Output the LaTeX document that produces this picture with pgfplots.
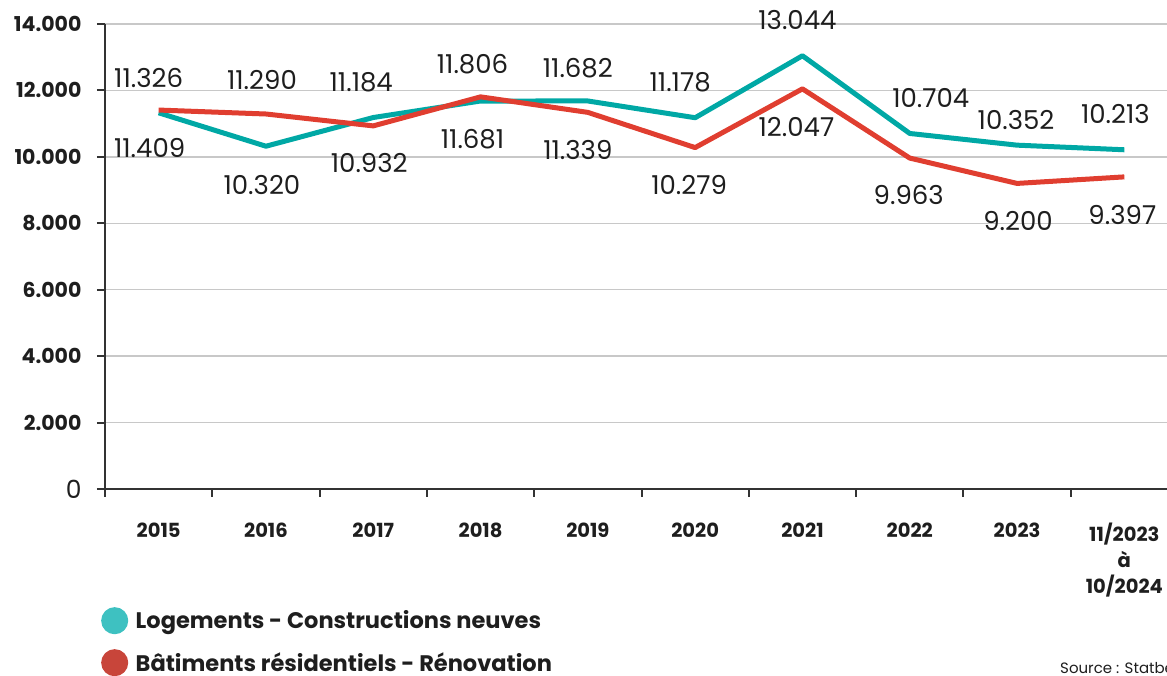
\documentclass[border=0pt]{standalone}
\usepackage{fontspec}
\setmainfont{Poppins}
\usepackage{pgfplots}
\usepackage{pgfplotstable}
\pgfplotsset{compat=1.18}
\definecolor{tealline}{RGB}{0,168,165}
\definecolor{redline}{RGB}{224,62,48}
\definecolor{tealdot}{RGB}{62,193,193}
\definecolor{reddot}{RGB}{200,69,58}
\definecolor{axisgray}{RGB}{51,51,51}
\definecolor{gridgray}{RGB}{200,200,200}
\definecolor{txt}{RGB}{30,30,30}

\pgfplotstableread{
x y lab dx dy
0 11326 11.326 -10 35
1 10320 10.320 -4 -39
2 11184 11.184 -12 35
3 11681 11.681 -8 -38
4 11682 11.682 -10 33
5 11178 11.178 -15 36
6 13044 13.044 -5 36
7 10704 10.704 21 35
8 10352 10.352 -1 25
9 10213 10.213 -9 36
}\tealdata

\pgfplotstableread{
x y lab dx dy
0 11409 11.409 -9 -38
1 11290 11.290 -4 34
2 10932 10.932 -4 -37
3 11806 11.806 -8 33
4 11339 11.339 -10 -38
5 10279 10.279 -6 -37
6 12047 12.047 -6 -38
7 9963 9.963 -1 -37
8 9200 9.200 1 -38
9 9397 9.397 -2 -38
}\reddata

\begin{document}
\begin{tikzpicture}
\begin{axis}[
  scale only axis, width=1073pt, height=465pt,
  xmin=-0.5, xmax=9.5, ymin=0, ymax=14000,
  clip=false,
  scaled y ticks=false,
  axis x line=bottom, axis y line=left,
  axis line style={-, line width=2pt, color=axisgray},
  xtick={0,...,9},
  xticklabels={2015,2016,2017,2018,2019,2020,2021,2022,2023,{11/2023\\à\\10/2024}},
  minor xtick={-0.5,0.5,...,9.5},
  major x tick style={draw=none},
  minor x tick style={line width=2pt, color=axisgray},
  minor tick length=8pt,
  tick align=outside,
  xticklabel style={font=\fontsize{19.5}{26}\selectfont\bfseries, text=txt, align=center, anchor=north, yshift=-22pt},
  ytick={0,2000,...,14000},
  yticklabels={{\fontsize{25}{25}\selectfont\mdseries 0},2.000,4.000,6.000,8.000,10.000,12.000,14.000},
  yticklabel style={font=\fontsize{20.5}{22}\selectfont\bfseries, text=txt, anchor=east, xshift=-12pt},
  major y tick style={line width=2pt, color=axisgray},
  major tick length=8pt,
  ymajorgrids,
  grid style={line width=1.5pt, color=gridgray},
  legend style={at={(rel axis cs:0,0)}, anchor=north west, xshift=-4pt, yshift=-118pt,
    draw=none, fill=none, font=\fontsize{22.5}{25}\selectfont\bfseries, text=txt,
    row sep=15pt, inner sep=0pt},
  legend cell align=left,
]
\addplot[color=tealline, line width=5pt, line join=round,
  nodes near coords, point meta=explicit symbolic,
  visualization depends on={\thisrow{dx} \as \dx},
  visualization depends on={\thisrow{dy} \as \dy},
  every node near coord/.append style={anchor=center, xshift=\dx pt, yshift=\dy pt, text=txt, font=\fontsize{26}{26}\selectfont},
  legend image code/.code={\fill[tealdot] (11pt,0pt) circle[radius=11pt]; \path[draw=none, fill=none] (0pt,0pt) rectangle (30pt,1pt);}
] table[x=x, y=y, meta=lab] {\tealdata};
\addlegendentry{Logements - Constructions neuves}
\addplot[color=redline, line width=5pt, line join=round,
  nodes near coords, point meta=explicit symbolic,
  visualization depends on={\thisrow{dx} \as \dx},
  visualization depends on={\thisrow{dy} \as \dy},
  every node near coord/.append style={anchor=center, xshift=\dx pt, yshift=\dy pt, text=txt, font=\fontsize{26}{26}\selectfont},
  legend image code/.code={\fill[reddot] (11pt,0pt) circle[radius=11pt]; \path[draw=none, fill=none] (0pt,0pt) rectangle (30pt,1pt);}
] table[x=x, y=y, meta=lab] {\reddata};
\addlegendentry{Bâtiments résidentiels - Rénovation}
\end{axis}
\node[anchor=west, font=\fontsize{15}{15}\selectfont, text=txt, inner sep=0pt] at (955pt,-179pt) {Source : Statbel};
\pgfresetboundingbox
\path[use as bounding box] (-105pt,-187pt) rectangle (1062pt,489pt);
\end{tikzpicture}
\end{document}
